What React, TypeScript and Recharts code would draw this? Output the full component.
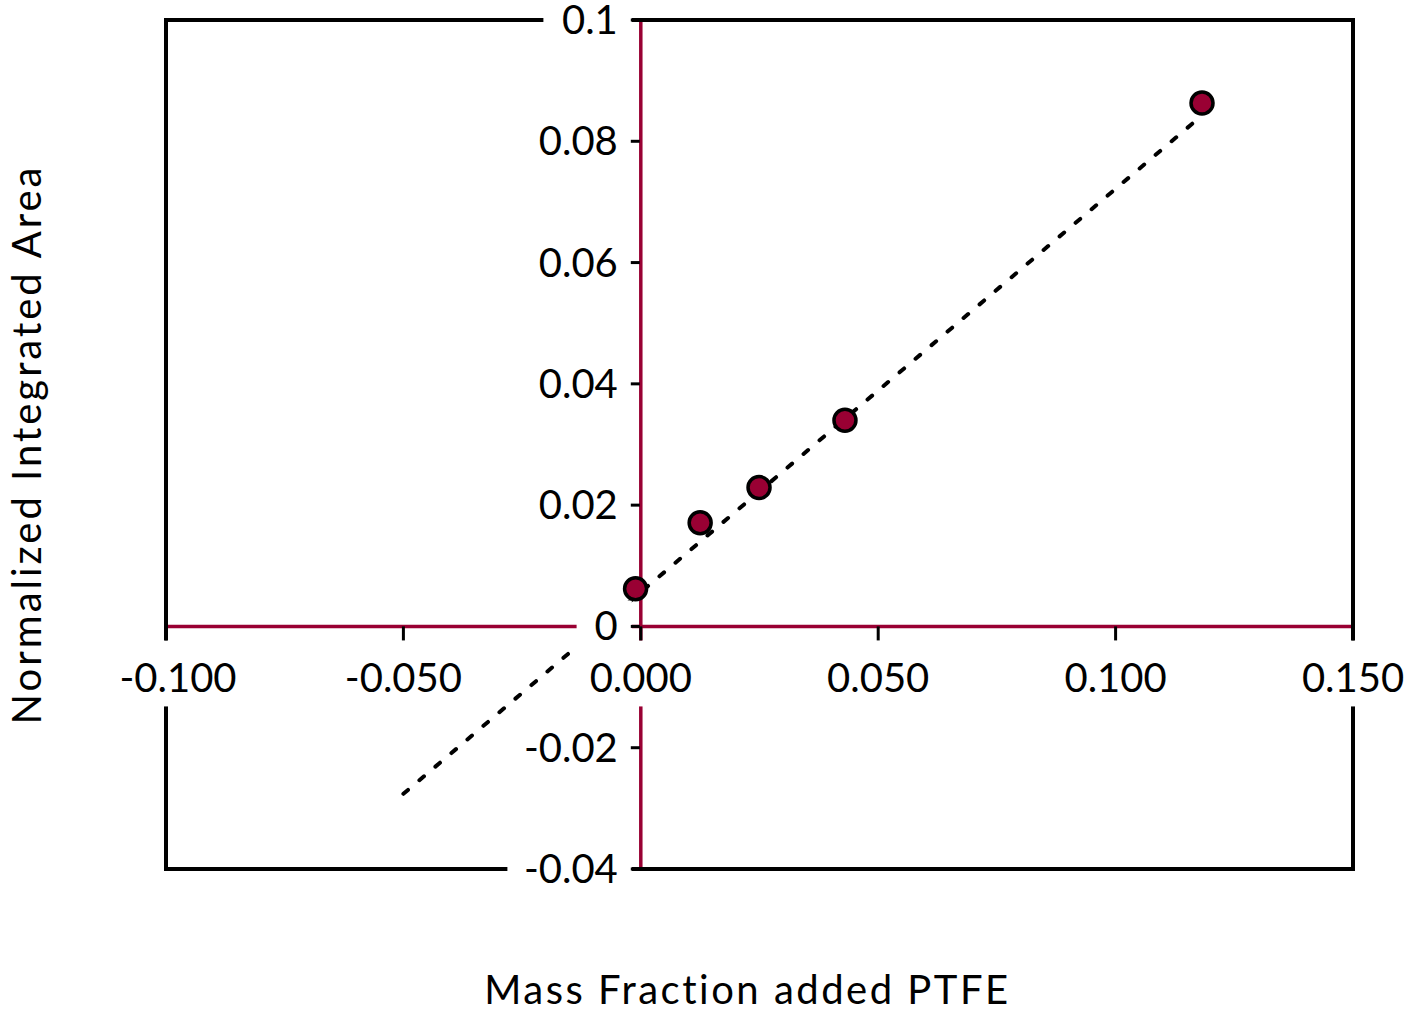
import {
  ComposedChart,
  XAxis,
  YAxis,
  Line,
  Scatter,
  ReferenceLine,
  ReferenceArea,
  ReferenceDot,
} from "recharts";

// measured points
const massFraction = [-0.0011, 0.0125, 0.0249, 0.043, 0.1182];
const integratedArea = [0.0062, 0.0171, 0.0229, 0.034, 0.0863];

const fitX = [-0.05, 0.1178];
const fitY = [-0.0276, 0.084];

const xTicks = [-0.1, -0.05, 0, 0.05, 0.1, 0.15];
const xTickLabels = ["-0.100", "-0.050", "0.000", "0.050", "0.100", "0.150"];
const yTicks = [-0.04, -0.02, 0, 0.02, 0.04, 0.06, 0.08, 0.1];
const yTickLabels = ["-0.04", "-0.02", "0", "0.02", "0.04", "0.06", "0.08", "0.1"];

const xTitle = "Mass Fraction added PTFE";
const yTitle = "Normalized Integrated Area";

const CRIMSON = "#990033";
const FONT = "Lato, 'DejaVu Sans', sans-serif";
const FONT_SIZE = 40;

const pointData = massFraction.map((x, i) => ({ x, y: integratedArea[i] }));
const fitData = fitX.map((x, i) => ({ x, y: fitY[i] }));

// rough text width for Lato at FONT_SIZE
const textWidth = (s: string) =>
  s.split("").reduce((w, c) => {
    if (c === ".") return w + 0.25 * FONT_SIZE;
    if (c === "-") return w + 0.32 * FONT_SIZE;
    return w + 0.58 * FONT_SIZE;
  }, 0);

const renderXTick = (p: any, label: string, first: boolean) => {
  const { cx, cy } = p;
  const w = textWidth(label);
  // the leftmost label sits a little to the right of its tick in the original
  const tx = first ? cx + 12 : cx;
  return (
    <g>
      <rect x={tx - w / 2 - 10} y={cy + 14} width={w + 20} height={66} fill="#fff" />
      <line x1={cx} y1={cy} x2={cx} y2={cy + 14} stroke="#000" strokeWidth={3} />
      <text
        x={tx}
        y={cy + 66}
        textAnchor="middle"
        fontFamily={FONT}
        fontSize={FONT_SIZE}
        fill="#000"
      >
        {label}
      </text>
    </g>
  );
};

const renderYTick = (p: any, label: string) => {
  const { cx, cy } = p;
  const w = textWidth(label);
  return (
    <g>
      <rect x={cx - 23 - w - 18} y={cy - 26} width={w + 32} height={52} fill="#fff" />
      <line x1={cx - 10} y1={cy} x2={cx - 1} y2={cy} stroke="#000" strokeWidth={3} />
      <text
        x={cx - 23}
        y={cy + 14}
        textAnchor="end"
        fontFamily={FONT}
        fontSize={FONT_SIZE}
        fill="#000"
      >
        {label}
      </text>
    </g>
  );
};

export default function App() {
  return (
    <>
      <style>{`body { margin: 0; }`}</style>
      <ComposedChart
        width={1408}
        height={1014}
        margin={{ top: 20, right: 55, bottom: 0, left: 0 }}
      >
        <XAxis
          type="number"
          dataKey="x"
          domain={[-0.1, 0.15]}
          ticks={xTicks}
          axisLine={false}
          tickLine={false}
          tick={false}
          height={145}
          label={{
            content: (props: any) => {
              const vb = props.viewBox;
              return (
                <text
                  x={vb.x + vb.width / 2 - 12}
                  y={vb.y + 135}
                  textAnchor="middle"
                  fontFamily={FONT}
                  fontSize={FONT_SIZE}
                  letterSpacing={2.5}
                  fill="#000"
                >
                  {xTitle}
                </text>
              );
            },
          }}
        />
        <YAxis
          type="number"
          dataKey="y"
          domain={[-0.04, 0.1]}
          ticks={yTicks}
          axisLine={false}
          tickLine={false}
          tick={false}
          width={166}
          label={{
            content: (props: any) => {
              const vb = props.viewBox;
              const x = vb.x + 41;
              const y = vb.y + vb.height / 2;
              return (
                <text
                  x={x}
                  y={y}
                  transform={`rotate(-90, ${x}, ${y})`}
                  textAnchor="middle"
                  fontFamily={FONT}
                  fontSize={FONT_SIZE}
                  letterSpacing={3}
                  fill="#000"
                >
                  {yTitle}
                </text>
              );
            },
          }}
        />

        <ReferenceLine y={0} stroke={CRIMSON} strokeWidth={3.5} ifOverflow="visible" zIndex={10} />
        <ReferenceLine x={0} stroke={CRIMSON} strokeWidth={3.5} ifOverflow="visible" zIndex={10} />
        <ReferenceArea
          x1={-0.1}
          x2={0.15}
          y1={-0.04}
          y2={0.1}
          fill="none"
          stroke="#000"
          strokeWidth={4}
          ifOverflow="visible"
          zIndex={20}
        />

        <Line
          data={fitData}
          dataKey="y"
          type="linear"
          stroke="#000"
          strokeWidth={4}
          strokeDasharray="6 15"
          strokeLinecap="round"
          dot={false}
          activeDot={false}
          isAnimationActive={false}
          zIndex={30}
        />

        {xTicks.map((t, i) => (
          <ReferenceDot
            key={`xt${t}`}
            x={t}
            y={0}
            r={0}
            ifOverflow="visible"
            zIndex={40}
            shape={(p: any) => renderXTick(p, xTickLabels[i], i === 0)}
          />
        ))}
        {yTicks.map((t, i) => (
          <ReferenceDot
            key={`yt${t}`}
            x={0}
            y={t}
            r={0}
            ifOverflow="visible"
            zIndex={41}
            shape={(p: any) => renderYTick(p, yTickLabels[i])}
          />
        ))}

        <Scatter
          data={pointData}
          dataKey="y"
          isAnimationActive={false}
          zIndex={50}
          shape={(p: any) => (
            <circle cx={p.cx} cy={p.cy} r={11} fill={CRIMSON} stroke="#000" strokeWidth={3.5} />
          )}
        />
      </ComposedChart>
    </>
  );
}
